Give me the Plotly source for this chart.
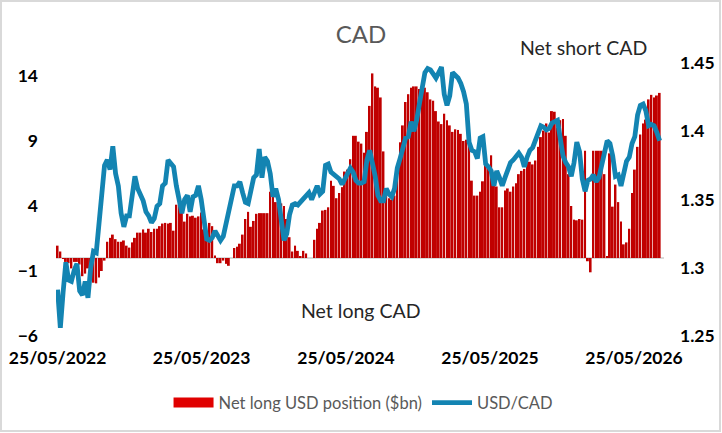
import pandas as pd
import plotly.graph_objects as go

# Weekly positioning vs spot
start_date = "2022-05-25"

net_long_usd = [
    0.95, 0.5, -0.05, -0.3, -0.4, -0.8, -0.3, -0.3, -0.5, -1.4,
    -1.2, -0.8, -1.2, -1.9, -1.95, -1.5, -1.0, -0.2, 1.25, 1.55,
    1.8, 1.45, 1.25, 1.25, 1.35, 0.95, 0.8, 1.2, 1.55, 1.95,
    1.95, 2.2, 1.95, 2.25, 2.0, 2.25, 2.25, 2.45,
    2.65, 2.7, 2.65, 2.7, 2.1, 4.1, 4.2, 3.75, 2.8, 3.4,
    3.2, 3.25, 3.1, 3.2, 3.5, 2.2, 1.7, 2.7, 2.45, 0.2,
    -0.4, -0.4, -0.2, -0.45, -0.6, 0, 0.77, 0.87, 1.1, 1.8,
    3.0, 3.55, 2.4, 2.85,
    3.4, 3.45, 3.45, 3.45, 3.45, 5.1, 4.9, 4.3, 4.3, 4.2,
    4.0, 3.0, 1.6, 0.5, 0.95, 0.55, 0.1, 0.55, 0.35, 0,
    0, 1.4, 2.25, 2.7, 3.65, 3.7, 3.9, 5.95, 5.55, 4.6,
    5.0, 5.45, 6.65, 6.8, 7.6, 9.4,
    9.4, 8.95, 8.8, 8.1, 9.7, 11.7, 14.2, 13.2, 13.1, 12.35,
    8.2, 5.0, 4.6, 4.5, 4.8, 6.5, 8.9, 10.2, 12.0, 12.6,
    13.1, 13.2, 13.2, 13.0, 12.9, 13.1, 12.75, 12.2, 12.1, 11.3,
    10.5, 10.3, 11.1, 10.6, 10.2, 9.7, 9.9,
    9.85, 9.55, 9.0, 9.1, 8.65, 5.95, 4.8, 4.8, 5.1, 5.9,
    7.4, 7.1, 7.9, 5.55, 5.5, 3.9, 3.9, 5.2, 5.35, 5.1,
    5.5, 5.75, 6.45, 6.7, 6.85, 7.5, 7.4, 7.2, 7.5, 8.55,
    9.3, 9.8, 10.35, 9.65, 11.3, 11.25, 10.05,
    10.6, 10.7, 9.4, 6.45, 4.0, 2.95, 2.9, 3.0, 2.95, 8.25,
    -0.25, -1.1, 8.25, 8.25, 8.25, 8.25, 6.45, 0.1, 8.05, 3.95,
    5.65, 4.3, 2.8, 1.05, 1.2, 2.25, 5.0, 6.8, 8.55, 9.5,
    10.35, 10.65, 12.2, 12.55, 12.35, 12.5, 12.7,
]

usd_cad = [
    1.284, 1.256, 1.282, 1.304, 1.291, 1.290, 1.298, 1.303, 1.283, 1.280,
    1.290, 1.278, 1.300, 1.312, 1.311, 1.335, 1.357, 1.375, 1.379, 1.372,
    1.389, 1.369, 1.360, 1.340, 1.330, 1.338, 1.338, 1.352, 1.367, 1.358,
    1.354, 1.349, 1.341, 1.338, 1.333, 1.336, 1.345, 1.347, 1.360, 1.362,
    1.379, 1.376, 1.374, 1.360, 1.351, 1.340, 1.350, 1.353, 1.341, 1.352,
    1.353, 1.360, 1.350, 1.336, 1.321, 1.320, 1.322, 1.327, 1.323, 1.320,
    1.323, 1.332, 1.342, 1.352, 1.360, 1.360, 1.363, 1.355, 1.348, 1.347,
    1.359, 1.366, 1.368, 1.387, 1.366, 1.381, 1.378, 1.369, 1.352, 1.358,
    1.350, 1.333, 1.320, 1.325, 1.339, 1.346, 1.347, 1.346, 1.348, 1.350,
    1.352, 1.355, 1.350, 1.355, 1.360, 1.354, 1.356, 1.375, 1.376, 1.370,
    1.368, 1.367, 1.365, 1.361, 1.365, 1.369, 1.373, 1.370, 1.364, 1.362,
    1.362, 1.363, 1.379, 1.386, 1.378, 1.367, 1.353, 1.349, 1.349, 1.358,
    1.354, 1.352, 1.358, 1.373, 1.380, 1.387, 1.395, 1.396, 1.407, 1.400,
    1.408, 1.420, 1.433, 1.443, 1.446, 1.445, 1.442, 1.439, 1.443, 1.447,
    1.427, 1.419, 1.426, 1.443, 1.441, 1.439, 1.435, 1.429, 1.420, 1.392,
    1.386, 1.385, 1.380, 1.395, 1.396, 1.376, 1.374, 1.371, 1.360, 1.371,
    1.366, 1.360, 1.366, 1.372, 1.377, 1.379, 1.381, 1.384, 1.381, 1.374,
    1.381, 1.386, 1.388, 1.394, 1.400, 1.404, 1.403, 1.401, 1.402, 1.406,
    1.407, 1.408, 1.395, 1.382, 1.377, 1.374, 1.367, 1.377, 1.392, 1.385,
    1.365, 1.356, 1.364, 1.365, 1.368, 1.363, 1.366, 1.374, 1.383, 1.393,
    1.391, 1.382, 1.367, 1.368, 1.360, 1.370, 1.378, 1.381, 1.391, 1.396,
    1.412, 1.419, 1.420, 1.415, 1.404, 1.405, 1.404, 1.399, 1.393,
]

tick_dates = ["2022-05-25", "2023-05-25", "2024-05-25", "2025-05-25", "2026-05-25"]
tick_labels = ["25/05/2022", "25/05/2023", "25/05/2024", "25/05/2025", "25/05/2026"]

dates = pd.date_range(start=start_date, periods=len(net_long_usd), freq="7D")

BAR_RED = "#C00000"
LINE_BLUE = "#1384B2"

fig = go.Figure()
fig.add_trace(go.Bar(
    x=dates, y=net_long_usd, name="Net long USD position ($bn)",
    marker=dict(color=BAR_RED, line=dict(width=0)), showlegend=False,
))
# legend-only entry so the key shows a wide red block like the original
fig.add_trace(go.Scatter(
    x=[None], y=[None], mode="lines", name="Net long USD position ($bn)",
    line=dict(color="#E00000", width=10),
))
fig.add_trace(go.Scatter(
    x=dates, y=usd_cad, name="USD/CAD", yaxis="y2", mode="lines",
    line=dict(color=LINE_BLUE, width=4.8),
))

tick_font = dict(family="Lato", size=17.5, color="#000000", weight="bold")
note_font = dict(family="Lato", size=19.5, color="#262626")

fig.update_layout(
    width=722, height=433,
    margin=dict(l=56, r=58, t=63, b=97),
    paper_bgcolor="white", plot_bgcolor="white",
    bargap=0.3,
    title=dict(text="CAD", x=0.5, xanchor="center", y=0.92, yanchor="middle",
               font=dict(family="Lato", size=24, color="#595959")),
    xaxis=dict(
        range=["2022-05-21", "2026-08-09"],
        tickvals=tick_dates, ticktext=tick_labels,
        showgrid=False, showline=False, zeroline=False, automargin=False,
        ticks="", ticklabelstandoff=9, tickfont=tick_font,
    ),
    yaxis=dict(
        range=[-6, 15], tick0=-6, dtick=5,
        showgrid=False, showline=False, automargin=False,
        zeroline=True, zerolinecolor="#D9D9D9", zerolinewidth=2,
        ticks="", ticklabelstandoff=17, tickfont=tick_font,
    ),
    yaxis2=dict(
        range=[1.25, 1.45], tick0=1.25, dtick=0.05, tickformat="~r",
        overlaying="y", side="right", automargin=False,
        showgrid=False, showline=False, zeroline=False,
        ticks="", ticklabelstandoff=15, tickfont=tick_font,
    ),
    legend=dict(
        orientation="h", x=0.505, xanchor="center", y=-0.245, yanchor="middle",
        font=dict(family="Lato", size=16.5, color="#595959"),
        itemwidth=40, traceorder="normal",
    ),
    annotations=[
        dict(text="Net short CAD", xref="paper", yref="paper", x=0.867, y=1.055,
             xanchor="center", yanchor="middle", showarrow=False, font=note_font),
        dict(text="Net long CAD", xref="paper", yref="paper", x=0.502, y=0.092,
             xanchor="center", yanchor="middle", showarrow=False, font=note_font),
    ],
    shapes=[
        dict(type="rect", xref="paper", yref="paper",
             x0=-55 / 608, x1=664 / 608, y0=-95 / 273, y1=1 + 62 / 273,
             line=dict(color="#D9D9D9", width=2), layer="below"),
    ],
)

fig.write_html("out.html", config={"displayModeBar": False},
               post_script="document.body.style.margin='0';")
